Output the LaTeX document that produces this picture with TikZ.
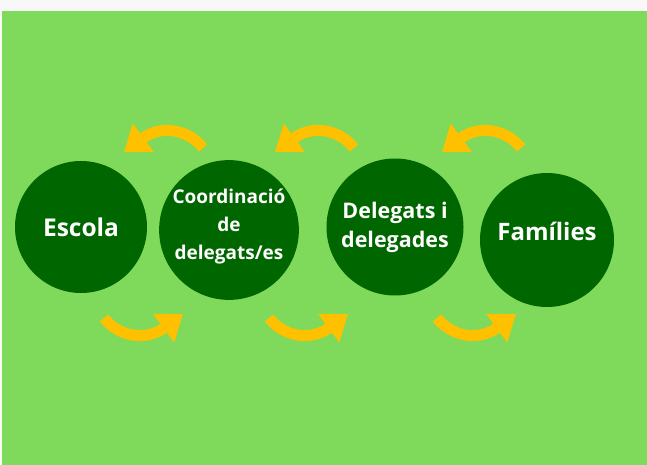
\documentclass[tikz,border=0pt]{standalone}
\usepackage{fontspec}
\setmainfont{Open Sans}
\usetikzlibrary{arrows.meta}
\definecolor{bggreen}{HTML}{7FDA5B}
\definecolor{circgreen}{HTML}{006600}
\definecolor{arrowyellow}{HTML}{FFC000}
\definecolor{topgray}{HTML}{F8F8F8}

\begin{document}
\begin{tikzpicture}[x=1pt,y=-1pt,
    actor/.style={circle,fill=circgreen,text=white,align=center,
                  inner sep=0pt,minimum size=134pt},
    flow/.style={draw=arrowyellow,line width=11pt,
                 -{Triangle[length=24pt,width=34pt]}}]
  % background
  \fill[topgray] (0,0) rectangle (647,465);
  \fill[bggreen] (2,11) rectangle (647,465);

  % the four circles
  \node[actor,minimum size=132pt,font=\bfseries\fontsize{24.5}{28}\selectfont]
       (escola) at (81,227) {Escola};
  \node[actor,minimum size=135pt,text depth=12pt,
        font=\bfseries\fontsize{19}{28}\selectfont]
       (coord) at (229,230) {Coordinació\\de\\delegats/es};
  \node[actor,minimum size=137pt,font=\bfseries\fontsize{21.5}{29}\selectfont]
       (delegats) at (395,227) {Delegats i\\delegades};
  \node[actor,minimum size=134pt,text depth=18pt,
        font=\bfseries\fontsize{24}{28}\selectfont]
       (families) at (547,240) {Famílies};

  % curved arrows below (to the right) and above (to the left)
  \foreach \i/\lo/\up in {1/0/0,2/165/151,3/333/318} {
    \coordinate (lo\i s) at (104+\lo,318);
    \coordinate (lo\i t) at (183+\lo,314);
    \coordinate (up\i s) at (203+\up,148);
    \coordinate (up\i t) at (124+\up,152);
    \draw[flow] (lo\i s) .. controls +(14,18) and +(-38,28) .. (lo\i t);
    \draw[flow] (up\i s) .. controls +(-14,-18) and +(38,-28) .. (up\i t);
  }
\end{tikzpicture}
\end{document}
